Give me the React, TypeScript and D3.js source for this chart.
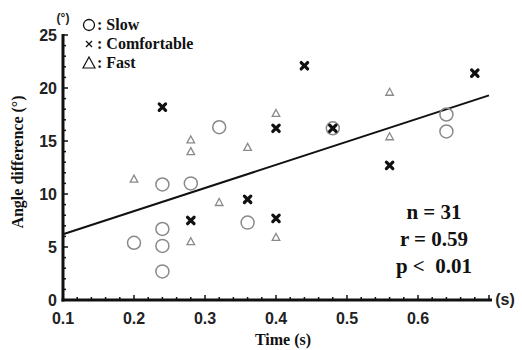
import React from "react";
import * as d3 from "d3";

const slowX = [0.2, 0.24, 0.24, 0.24, 0.24, 0.28, 0.32, 0.36, 0.48, 0.64, 0.64];
const slowY = [5.4, 10.9, 6.7, 5.1, 2.7, 11.0, 16.3, 7.3, 16.2, 17.5, 15.9];
const comfX = [0.24, 0.28, 0.36, 0.4, 0.4, 0.44, 0.48, 0.56, 0.68];
const comfY = [18.2, 7.5, 9.5, 7.7, 16.2, 22.1, 16.2, 12.7, 21.4];
const fastX = [0.2, 0.28, 0.28, 0.28, 0.32, 0.36, 0.4, 0.4, 0.56, 0.56];
const fastY = [11.4, 15.1, 14.0, 5.5, 9.2, 14.4, 17.6, 5.9, 19.6, 15.4];
const fitX = [0.1, 0.7];
const fitY = [6.2, 19.3];
const xTicks = [0.1, 0.2, 0.3, 0.4, 0.5, 0.6];
const yTicks = [0, 5, 10, 15, 20, 25];
const stats = ["n = 31", "r = 0.59", "p <\u00a0 0.01"];

export default function App() {
  const x = d3.scaleLinear().domain([0.1, 0.7]).range([63, 489]);
  const y = d3.scaleLinear().domain([0, 25]).range([300, 35]);
  const xMinor = d3.range(0.1, 0.7001, 0.02);
  const yMinor = d3.range(0, 25.001, 1);
  const line = d3.line<number>().x((d, i) => x(fitX[i])).y((d, i) => y(fitY[i]));
  const serif = "'Liberation Serif', 'Times New Roman', serif";
  const sans = "'Liberation Sans', Arial, sans-serif";
  const gray = "#8a8a8a";
  return (
    <svg width={522} height={350} style={{ position: "absolute", left: 0, top: 0, background: "#fff" }}>
      {/* axes */}
      <line x1={63} x2={63} y1={34} y2={301.5} stroke="#111" strokeWidth={3} />
      <line x1={61.5} x2={492} y1={300} y2={300} stroke="#111" strokeWidth={3} />
      {yMinor.map((v, i) => (
        <line key={"ym" + i} x1={63} x2={Math.round(v) % 5 === 0 ? 68 : 66} y1={y(v)} y2={y(v)} stroke="#111" strokeWidth={1.5} />
      ))}
      {xMinor.map((v, i) => (
        <line key={"xm" + i} x1={x(v)} x2={x(v)} y1={300} y2={i % 5 === 0 ? 295 : 297} stroke="#111" strokeWidth={1.5} />
      ))}
      {yTicks.map((v) => (
        <text key={"yt" + v} x={57} y={y(v) + 5.5} textAnchor="end" fontFamily={sans} fontWeight="bold" fontSize={16} fill="#222">{v}</text>
      ))}
      {xTicks.map((v) => (
        <text key={"xt" + v} x={x(v)} y={324} textAnchor="middle" fontFamily={sans} fontWeight="bold" fontSize={16} fill="#222">{v.toFixed(1)}</text>
      ))}
      <text x={63} y={22} textAnchor="middle" fontFamily={sans} fontWeight="bold" fontSize={12} fill="#222">(°)</text>
      <text x={505} y={305} textAnchor="middle" fontFamily={sans} fontWeight="bold" fontSize={16} fill="#222">(s)</text>
      <text x={283} y={345} textAnchor="middle" fontFamily={serif} fontWeight="bold" fontSize={16} fill="#111">Time (s)</text>
      <text transform="translate(23,162) rotate(-90)" textAnchor="middle" fontFamily={serif} fontWeight="bold" fontSize={16} fill="#111">Angle difference (°)</text>
      {/* legend */}
      <circle cx={89} cy={25} r={5.5} fill="none" stroke="#111" strokeWidth={1.3} />
      <text x={97} y={30} fontFamily={serif} fontWeight="bold" fontSize={16} fill="#111">: Slow</text>
      <g stroke="#111" strokeWidth={1.3}>
        <line x1={86} x2={92} y1={41} y2={47} />
        <line x1={86} x2={92} y1={47} y2={41} />
      </g>
      <text x={97} y={49} fontFamily={serif} fontWeight="bold" fontSize={16} fill="#111">: Comfortable</text>
      <path d="M89,57 L95,68 L83,68 Z" fill="none" stroke="#111" strokeWidth={1.2} />
      <text x={97} y={68} fontFamily={serif} fontWeight="bold" fontSize={16} fill="#111">: Fast</text>
      {/* fit line */}
      <path d={line(fitY) || ""} stroke="#111" strokeWidth={2} fill="none" />
      {/* slow */}
      {slowX.map((v, i) => (
        <circle key={"s" + i} cx={x(v)} cy={y(slowY[i])} r={6.5} fill="none" stroke={gray} strokeWidth={1.5} />
      ))}
      {/* fast */}
      {fastX.map((v, i) => {
        const cx = x(v), cy = y(fastY[i]);
        return <path key={"f" + i} d={`M${cx},${cy - 4} L${cx + 3.8},${cy + 3} L${cx - 3.8},${cy + 3} Z`} fill="none" stroke={gray} strokeWidth={1.3} />;
      })}
      {/* comfortable */}
      {comfX.map((v, i) => {
        const cx = x(v), cy = y(comfY[i]);
        return (
          <g key={"c" + i} stroke="#111" strokeWidth={3.2} strokeLinecap="round">
            <line x1={cx - 3.2} x2={cx + 3.2} y1={cy - 3.2} y2={cy + 3.2} />
            <line x1={cx - 3.2} x2={cx + 3.2} y1={cy + 3.2} y2={cy - 3.2} />
          </g>
        );
      })}
      {stats.map((s, i) => (
        <text key={"st" + i} x={434} y={219 + i * 27} textAnchor="middle" fontFamily={serif} fontWeight="bold" fontSize={21} fill="#111">{s}</text>
      ))}
    </svg>
  );
}
